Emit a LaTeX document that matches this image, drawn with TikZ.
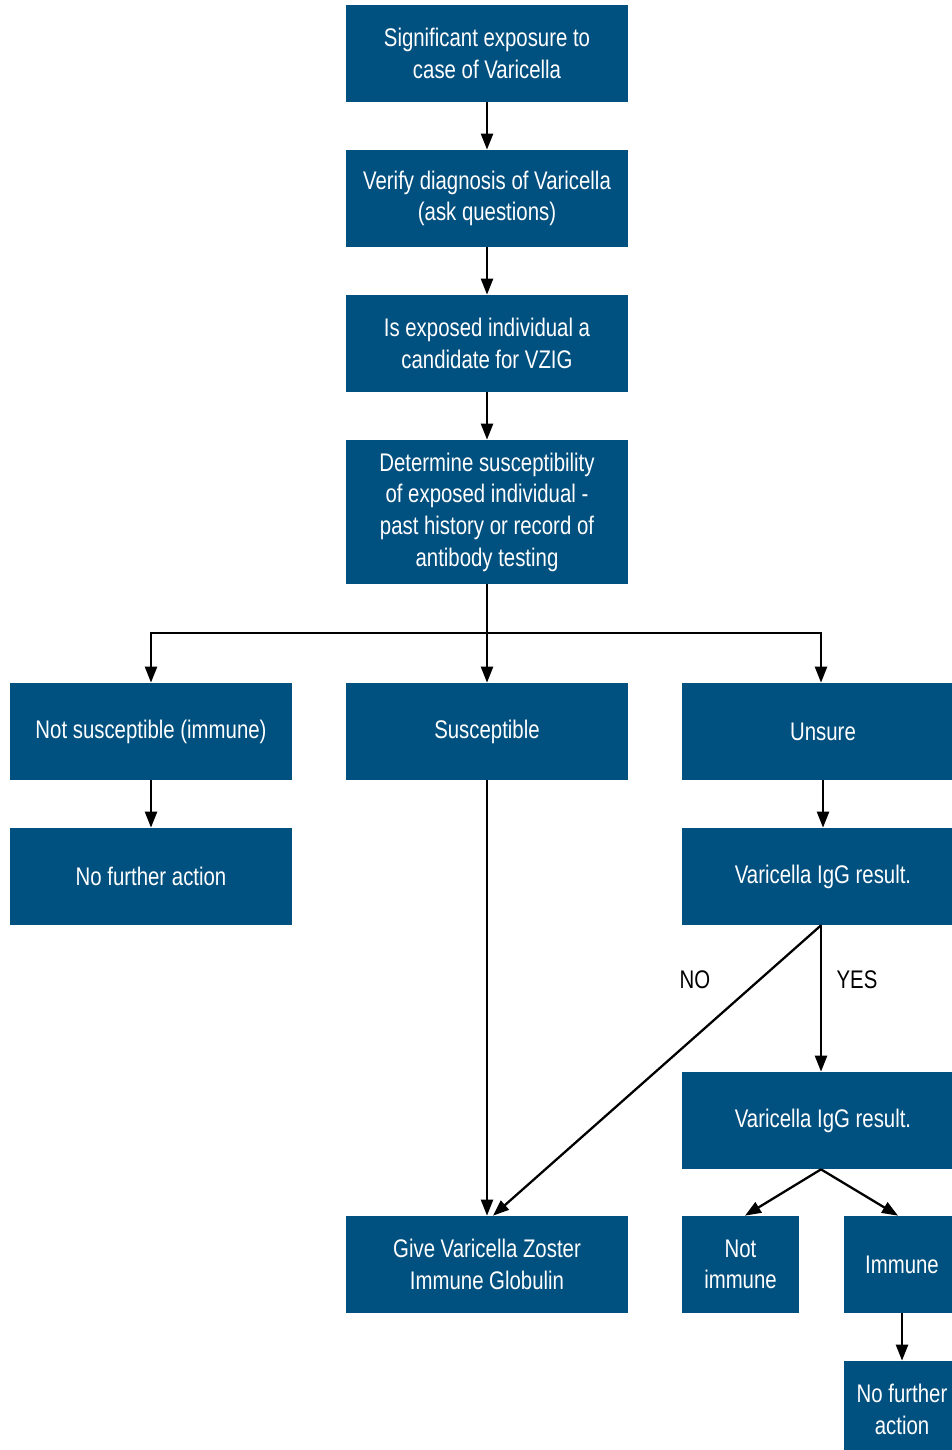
\documentclass[tikz,border=0pt]{standalone}
\usepackage{fontspec}
\setmainfont{Liberation Sans}[FakeStretch=0.8]
\usetikzlibrary{arrows.meta,positioning}
\definecolor{vzblue}{RGB}{0,80,128}

\begin{document}
\begin{tikzpicture}[x=0.02cm,y=-0.02cm,
    box/.style={fill=vzblue, text=white, minimum width=5.64cm, minimum height=1.94cm,
      align=center, inner sep=0pt, font=\fontsize{14.5}{18}\selectfont},
    arr/.style={-{Triangle[length=0.32cm,width=0.24cm]}, line width=1.3pt},
    lbl/.style={font=\fontsize{14.5}{18}\selectfont}]
    \useasboundingbox (0,0) rectangle (952,1450);

    % main column
    \node[box] (sig) at (487,53.5) {Significant exposure to\\case of Varicella};
    \node[box] (ver) at (487,198.5) {Verify diagnosis of Varicella\\(ask questions)};
    \node[box] (cand) at (487,343.5) {Is exposed individual a\\candidate for VZIG};
    \node[box, minimum height=2.88cm] (det) at (487,512) {Determine susceptibility\\of exposed individual -\\past history or record of\\antibody testing};

    % three outcomes
    \node[box] (notsus) at (151,731.5) {Not susceptible (immune)};
    \node[box] (sus) at (487,731.5) {Susceptible};
    \node[box] (unsure) at (823,731.5) {Unsure};

    \node[box] (nfa) at (151,876.5) {No further action};
    \node[box] (igg) at (823,876.5) {Varicella IgG result.};
    \node[box] (igg2) at (823,1120.5) {Varicella IgG result.};
    \node[box] (vzig) at (487,1264.5) {Give Varicella Zoster\\Immune Globulin};
    \node[box, minimum width=2.34cm] (notimm) at (740.5,1264.5) {Not\\immune};
    \node[box, minimum width=2.32cm] (imm) at (902,1264.5) {Immune};
    \node[box, minimum width=2.32cm] (nfa2) at (902,1409.5) {No further\\action};

    \node[lbl] (no) at (695,980) {NO};
    \node[lbl] (yes) at (857,980) {YES};

    \coordinate (split) at (487,633);

    \draw[arr] (sig) -- (ver);
    \draw[arr] (ver) -- (cand);
    \draw[arr] (cand) -- (det);
    \draw[line width=1.3pt] (det.south) -- (split);
    \draw[arr] (split) -| (notsus.north);
    \draw[arr] (split) -- (sus.north);
    \draw[arr] (split) -| ([xshift=-0.04cm]unsure.north);
    \draw[arr] (notsus) -- (nfa);
    \draw[arr] (unsure) -- (igg);
    \draw[arr] (sus) -- (vzig);
    \draw[arr] ([xshift=-0.04cm]igg.south) -- ([xshift=0.12cm]vzig.north);
    \draw[arr] ([xshift=-0.04cm]igg.south) -- ([xshift=-0.04cm]igg2.north);
    \draw[arr] ([xshift=-0.04cm]igg2.south) -- ([xshift=0.09cm]notimm.north);
    \draw[arr] ([xshift=-0.04cm]igg2.south) -- ([xshift=-0.08cm]imm.north);
    \draw[arr] (imm) -- (nfa2);
\end{tikzpicture}
\end{document}
